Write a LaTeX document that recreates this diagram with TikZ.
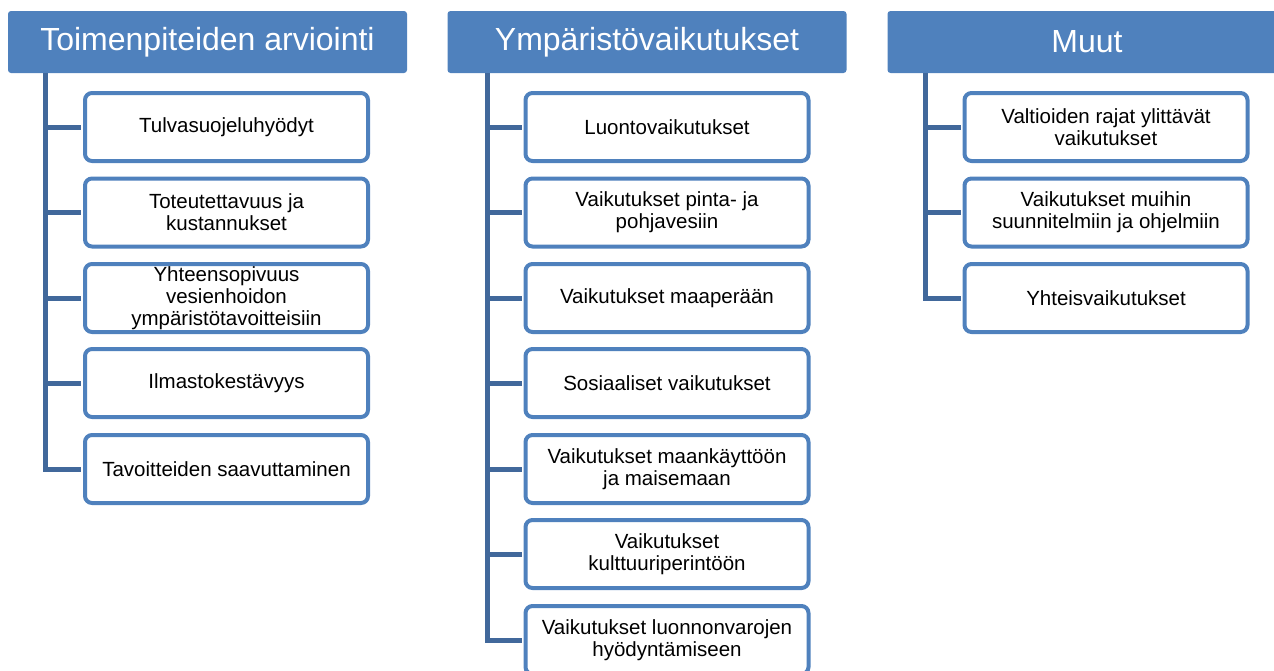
\documentclass[tikz,border=0pt]{standalone}
\usepackage{fontspec}
\setmainfont{Liberation Sans}
\definecolor{hdr}{HTML}{4F81BD}
\definecolor{bord}{HTML}{4F81BD}
\definecolor{trunk}{HTML}{41689B}
\begin{document}
\begin{tikzpicture}[x=1pt,y=-1pt,
  header/.style={fill=hdr,draw=none,rounded corners=3pt,minimum width=399pt,minimum height=62pt,
    text=white,font=\fontsize{32}{37}\selectfont,inner sep=0pt},
  item/.style={draw=bord,line width=4pt,fill=white,rounded corners=7pt,minimum width=283pt,minimum height=68pt,
    align=center,font=\fontsize{20.5}{22}\selectfont,inner sep=0pt},
  conn/.style={draw=trunk,line width=5pt}]
\useasboundingbox (0,0) rectangle (1274,670);
\begin{scope}
\clip (0,0) rectangle (1274,670);
\node[header] (h1) at (207.5,42) {Toimenpiteiden arviointi};
\node[header] (h2) at (647,42) {Ympäristövaikutukset};
\node[header] (h3) at (1087,42) {Muut};
\coordinate (t1) at (45,73);
\coordinate (t2) at (487,73);
\coordinate (t3) at (925,73);

\foreach \n/\x in {a1/45,a2/45,a3/45,a4/45,a5/45}{}

\node[item] (a1) at (226.5,127) {Tulvasuojeluhyödyt};
\node[item] (a2) at (226.5,212.5) {Toteutettavuus ja\\kustannukset};
\node[item] (a3) at (226.5,298) {Yhteensopivuus\\vesienhoidon\\ympäristötavoitteisiin};
\node[item] (a4) at (226.5,383) {Ilmastokestävyys};
\node[item] (a5) at (226.5,469) {Tavoitteiden saavuttaminen};

\node[item] (b1) at (667,127) {Luontovaikutukset};
\node[item] (b2) at (667,212.5) {Vaikutukset pinta- ja\\pohjavesiin};
\node[item] (b3) at (667,298) {Vaikutukset maaperään};
\node[item] (b4) at (667,383) {Sosiaaliset vaikutukset};
\node[item] (b5) at (667,469) {Vaikutukset maankäyttöön\\ja maisemaan};
\node[item] (b6) at (667,554) {Vaikutukset\\kulttuuriperintöön};
\node[item] (b7) at (667,640) {Vaikutukset luonnonvarojen\\hyödyntämiseen};

\node[item] (c1) at (1106,127) {Valtioiden rajat ylittävät\\vaikutukset};
\node[item] (c2) at (1106,212.5) {Vaikutukset muihin\\suunnitelmiin ja ohjelmiin};
\node[item] (c3) at (1106,298) {Yhteisvaikutukset};

\foreach \n in {a1,a2,a3,a4,a5}{\draw[conn] (t1) |- ([xshift=-2pt]\n.west);}
\foreach \n in {b1,b2,b3,b4,b5,b6,b7}{\draw[conn] (t2) |- ([xshift=-2pt]\n.west);}
\foreach \n in {c1,c2,c3}{\draw[conn] (t3) |- ([xshift=-2pt]\n.west);}
\end{scope}
\end{tikzpicture}
\end{document}
